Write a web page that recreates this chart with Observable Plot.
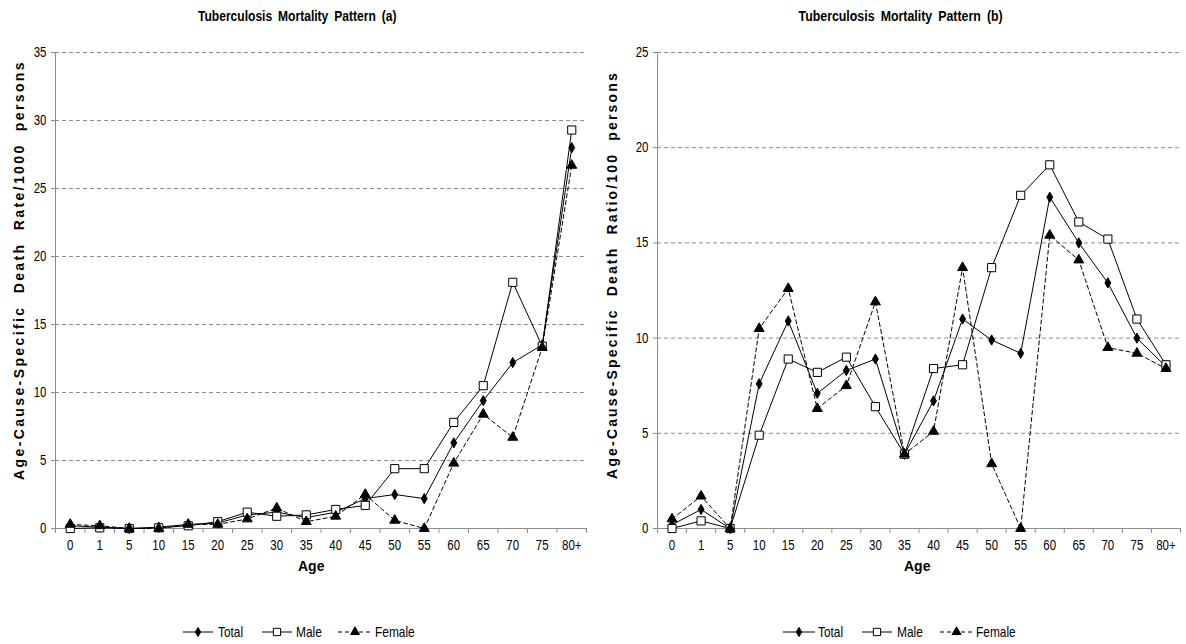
<!DOCTYPE html>
<html><head><meta charset="utf-8">
<script src="https://cdn.jsdelivr.net/npm/d3@7"></script>
<script src="https://cdn.jsdelivr.net/npm/@observablehq/plot@0.6"></script>
<style>
body{margin:0;background:#fff;width:1186px;height:644px;position:relative;overflow:hidden;font-family:"Liberation Sans",Arial,sans-serif;color:#000;}
.abs{position:absolute;white-space:nowrap;line-height:1;}
.title{font-weight:bold;font-size:14px;word-spacing:3px;}
.ylab{font-weight:bold;font-size:14px;word-spacing:6px;}
.xlab{font-weight:bold;font-size:14px;}
.leg{font-size:14.5px;transform-origin:0 50%;transform:scaleX(0.82);}
</style>
</head><body>
<script>
const ages = ["0","1","5","10","15","20","25","30","35","40","45","50","55","60","65","70","75","80+"];
const seriesNames = ["Total","Male","Female"];
const rateTotal  = [0.2,0.1,0.0,0.1,0.3,0.4,1.0,1.2,0.8,1.2,2.2,2.5,2.2,6.3,9.4,12.2,13.5,28.0];
const rateMale   = [0.0,0.05,0.0,0.05,0.2,0.5,1.2,0.9,1.0,1.4,1.7,4.4,4.4,7.8,10.5,18.1,13.4,29.3];
const rateFemale = [0.3,0.2,0.0,0.0,0.3,0.3,0.7,1.5,0.5,0.9,2.5,0.6,0.0,4.8,8.4,6.7,13.3,26.7];
const ratioTotal  = [0.2,1.0,0.0,7.6,10.9,7.1,8.3,8.9,3.9,6.7,11.0,9.9,9.2,17.4,15.0,12.9,10.0,8.5];
const ratioMale   = [0.0,0.4,0.0,4.9,8.9,8.2,9.0,6.4,3.9,8.4,8.6,13.7,17.5,19.1,16.1,15.2,11.0,8.6];
const ratioFemale = [0.5,1.7,0.0,10.5,12.6,6.3,7.5,11.9,3.9,5.1,13.7,3.4,0.0,15.4,14.1,9.5,9.2,8.4];
const rateTicks = [0,5,10,15,20,25,30,35];
const ratioTicks = [0,5,10,15,20,25];

const styles = {
  Total:  {symbol:"diamond", r:3.1, fill:"#000", stroke:"#000", dash:null},
  Male:   {symbol:"square",  r:4.6, fill:"#fff", stroke:"#000", dash:null},
  Female: {symbol:"triangle",r:3.7, fill:"#000", stroke:"#000", dash:"4,3"}
};
const FONT = '"Liberation Sans",Arial,sans-serif';
const GRID = "#8c8c8c";
const H = 580, TOP = 52, BOTTOM = H - 528;

function narrowText(svg, k) {
  d3.select(svg).selectAll("text").each(function() {
    const t = d3.select(this);
    const ax = parseFloat(t.attr("x")) || 0;
    const tr = t.attr("transform") || "";
    t.attr("transform", `${tr} translate(${ax},0) scale(${k},1) translate(${-ax},0)`);
  });
}

function chart(values, ticks, marginLeft, marginRight) {
  const rows = [];
  seriesNames.forEach((s, k) => values[k].forEach((v, i) => rows.push({series: s, i, v})));
  const marks = [
    Plot.ruleY(ticks.filter(t => t > 0), {stroke: GRID, strokeDasharray: "4,3", strokeWidth: 1}),
    Plot.ruleY([0], {stroke: GRID}),
    Plot.ruleX([-0.5], {stroke: GRID}),
    Plot.text(ages, {x: (d, i) => i, y: () => 0, text: d => d, dy: 17, fontSize: 14})
  ];
  seriesNames.forEach(s => {
    const st = styles[s];
    const d = rows.filter(r => r.series === s);
    marks.push(Plot.line(d, {x: "i", y: "v", stroke: "#000", strokeWidth: 1, strokeDasharray: st.dash || undefined}));
  });
  seriesNames.forEach(s => {
    const st = styles[s];
    const d = rows.filter(r => r.series === s);
    marks.push(Plot.dot(d, {x: "i", y: "v", symbol: st.symbol, r: st.r, fill: st.fill, stroke: st.stroke, strokeWidth: 1}));
  });
  const svg = Plot.plot({
    width: 593, height: H,
    marginLeft, marginRight, marginTop: TOP, marginBottom: BOTTOM,
    style: {fontFamily: FONT, fontSize: "14px", color: "#000", background: "transparent", overflow: "visible"},
    x: {type: "linear", domain: [-0.5, ages.length - 0.5], ticks: d3.range(-0.5, ages.length), tickFormat: () => "", tickSize: 5, label: null},
    y: {domain: [0, ticks[ticks.length - 1]], ticks, tickSize: 4, tickPadding: 5, label: null},
    marks
  });
  d3.select(svg).selectAll("g[aria-label^='x-axis'] line, g[aria-label^='x-axis'] path, g[aria-label^='y-axis'] line, g[aria-label^='y-axis'] path").attr("stroke", GRID);
  narrowText(svg, 0.82);
  return svg;
}

function place(el, left, top) { el.style.position = "absolute"; el.style.left = left + "px"; el.style.top = top + "px"; document.body.appendChild(el); }
function mk(cls, text) { const d = document.createElement("div"); d.className = "abs " + cls; d.textContent = text; document.body.appendChild(d); return d; }

function title(text, cx, cy, w) {
  const d = mk("title", text);
  const nat = d.offsetWidth, h = d.offsetHeight;
  d.style.left = (cx - nat / 2) + "px"; d.style.top = (cy - h / 2) + "px";
  d.style.transform = `scaleX(${w / nat})`;
}
function ylab(text, cx, cy, len) {
  const d = mk("ylab", text);
  const nat = d.offsetWidth;
  d.style.letterSpacing = ((len - nat) / text.length) + "px";
  const w = d.offsetWidth, h = d.offsetHeight;
  d.style.left = (cx - w / 2) + "px"; d.style.top = (cy - h / 2) + "px";
  d.style.transform = "rotate(-90deg)";
}
function xlab(text, cx, cy) {
  const d = mk("xlab", text);
  d.style.left = (cx - d.offsetWidth / 2) + "px"; d.style.top = (cy - d.offsetHeight / 2) + "px";
}
function legend(items, cy) {
  seriesNames.forEach((s, k) => {
    const st = styles[s];
    const [x0, x1, tx] = items[k];
    const sv = d3.create("svg").attr("width", x1 - x0 + 2).attr("height", 14).style("position", "absolute").style("left", (x0 - 1) + "px").style("top", (cy - 7) + "px");
    sv.append("line").attr("x1", 1).attr("x2", x1 - x0 + 1).attr("y1", 7).attr("y2", 7).attr("stroke", "#000").attr("stroke-dasharray", st.dash);
    sv.append("path").attr("transform", `translate(${(x1 - x0) / 2 + 1},7)`)
      .attr("d", d3.symbol(st.symbol === "diamond" ? d3.symbolDiamond : st.symbol === "square" ? d3.symbolSquare : d3.symbolTriangle, Math.PI * st.r * st.r * 0.8)())
      .attr("fill", st.fill).attr("stroke", st.stroke);
    document.body.appendChild(sv.node());
    const t = mk("leg", s);
    t.style.left = tx + "px"; t.style.top = (cy - t.offsetHeight / 2) + "px";
  });
}

place(chart([rateTotal, rateMale, rateFemale], rateTicks, 55, 7), 0, 0);
place(chart([ratioTotal, ratioMale, ratioFemale], ratioTicks, 64, 6), 593, 0);

title("Tuberculosis Mortality Pattern (a)", 297, 16, 198);
title("Tuberculosis Mortality Pattern (b)", 900, 16, 204);
ylab("Age-Cause-Specific Death Rate/1000 persons", 19, 270, 420);
ylab("Age-Cause-Specific Death Ratio/100 persons", 612, 275, 408);
xlab("Age", 311, 566);
xlab("Age", 917, 566);
legend([[183, 213, 218], [262, 292, 296], [338, 372, 375]], 632);
legend([[783, 815, 818], [862, 892, 897], [940, 973, 976]], 632);
</script>
</body></html>
